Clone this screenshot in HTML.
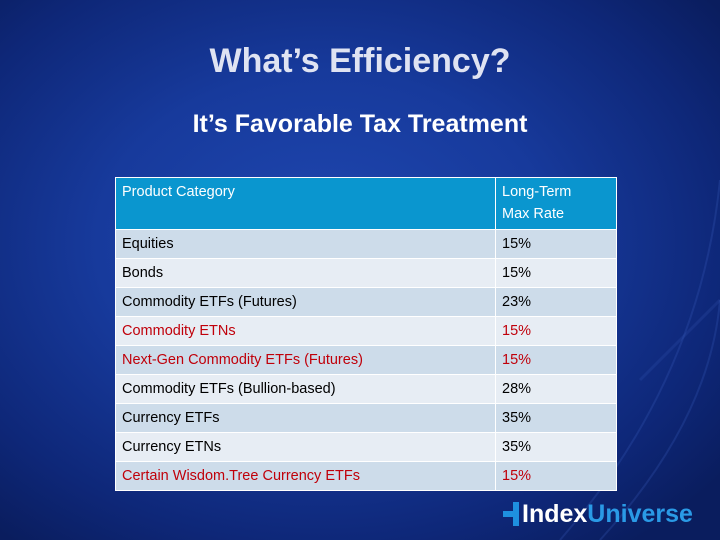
<!DOCTYPE html>
<html><head><meta charset="utf-8"><style>
body{margin:0;width:720px;height:540px;overflow:hidden;font-family:"Liberation Sans",sans-serif;}
#slide{position:relative;width:720px;height:540px;background:radial-gradient(ellipse 70% 70% at 45% 45%,#1f47b0 0%,#173a9c 45%,#0e2778 80%,#0a1d5e 100%);}
.t{position:absolute;left:0;width:720px;text-align:center;font-weight:bold;}
table{position:absolute;left:115px;top:177px;width:502px;border-collapse:collapse;font-size:14.5px;}
td{border:1px solid #fff;padding:0 6px;height:28px;color:#000;}
tr.h td{background:#0a96cf;color:#fff;height:48px;vertical-align:top;padding-top:3px;line-height:22px;}
tr.a td{background:#cddcea;}
tr.b td{background:#e7edf4;}
td.c2{width:108px;}
.red{color:#c0000a !important;}
</style></head><body>
<div id="slide">
<svg width="720" height="540" style="position:absolute;left:0;top:0">
<path d="M560 540 Q700 380 720 180" stroke="#3a5fc0" stroke-opacity="0.25" fill="none" stroke-width="2"/>
<path d="M600 540 Q710 420 720 300" stroke="#3a5fc0" stroke-opacity="0.25" fill="none" stroke-width="2"/>
<path d="M640 380 L720 300" stroke="#3a5fc0" stroke-opacity="0.2" fill="none" stroke-width="3"/>
</svg>
<div class="t" style="top:42px;font-size:34px;color:#dfe3f2">What’s Efficiency?</div>
<div class="t" style="top:110px;font-size:25px;color:#fff">It’s Favorable Tax Treatment</div>
<table>
<tr class="h"><td>Product Category</td><td class="c2">Long-Term<br>Max Rate</td></tr>
<tr class="a"><td>Equities</td><td>15%</td></tr>
<tr class="b"><td>Bonds</td><td>15%</td></tr>
<tr class="a"><td>Commodity ETFs (Futures)</td><td>23%</td></tr>
<tr class="b"><td class="red">Commodity ETNs</td><td class="red">15%</td></tr>
<tr class="a"><td class="red">Next-Gen Commodity ETFs (Futures)</td><td class="red">15%</td></tr>
<tr class="b"><td>Commodity ETFs (Bullion-based)</td><td>28%</td></tr>
<tr class="a"><td>Currency ETFs</td><td>35%</td></tr>
<tr class="b"><td>Currency ETNs</td><td>35%</td></tr>
<tr class="a"><td class="red">Certain Wisdom.Tree Currency ETFs</td><td class="red">15%</td></tr>
</table>
<div style="position:absolute;left:503px;top:500px;height:30px;font-size:25px;font-weight:bold;">
<span style="position:absolute;left:0;top:11px;width:16px;height:6px;background:#1e90e0"></span>
<span style="position:absolute;left:10px;top:2px;width:6px;height:24px;background:#1e90e0"></span>
<span style="position:absolute;left:19px;top:0;color:#fff;white-space:nowrap">Index<span style="color:#2a9ae6">Universe</span></span>
</div>
</div>
</body></html>
